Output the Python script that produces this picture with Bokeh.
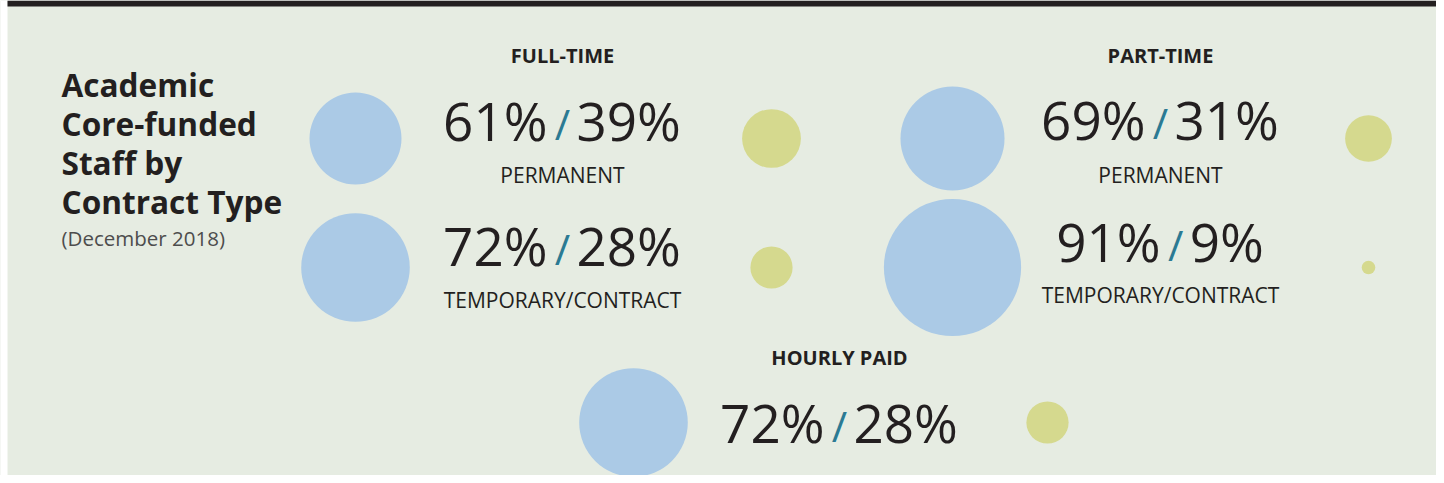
from bokeh.plotting import figure
from bokeh.models import Range1d
from bokeh.core.properties import value
from bokeh.embed import file_html
from bokeh.resources import INLINE

# ---------------- data ----------------
title_lines = ["Academic", "Core-funded", "Staff by", "Contract Type"]
subtitle = "(December 2018)"
group_names = ["FULL-TIME", "PART-TIME", "HOURLY PAID"]
row_group = [0, 0, 1, 1, 2]
row_labels = ["PERMANENT", "TEMPORARY/CONTRACT", "PERMANENT", "TEMPORARY/CONTRACT", ""]
share_main = [61, 72, 69, 91, 72]
share_other = [39, 28, 31, 9, 28]

# ---------------- layout / style ----------------
BG = "#e6ece2"
BLUE = "#abcae6"
GREEN = "#d5d98e"
TEAL = "#2b7a93"
DARK = "#231f20"
FONT = value("Open Sans")
BASE_SHIFT = 0.4   # em correction so that y is the visual baseline

col_center = [562, 1160, 839]       # text column centres per group
col_blue = [355, 952, 633]
col_green = [771, 1368, 1047]
head_y = [63, 63, 365]
row_y = [138, 267, 138, 267, 422]      # circle centres
num_base = [141, 266, 140, 262, 443]
lab_base = [183, 308, 183, 303, None]
R_PER_PCT = 0.754
NUM_SIZE = 53
TITLE_SIZE = 31.6
SUB_SIZE = 20.5
HEAD_SIZE = 20
LAB_SIZE = 21
SLASH_SIZE = 42


def by(vals, size):
    return [v - BASE_SHIFT * size for v in vals]


W, H = 1436, 475
p = figure(width=W, height=H, x_range=Range1d(0, W), y_range=Range1d(H, 0),
           output_backend="svg", toolbar_location=None, min_border=0,
           x_axis_location=None, y_axis_location=None,
           background_fill_color=BG, border_fill_color=BG, outline_line_color=None)
p.grid.visible = False

# white left strip and top dark bar
p.quad(left=0, right=7, top=0, bottom=H, fill_color="white", line_color=None)
p.quad(left=7, right=W, top=0, bottom=6, fill_color=DARK, line_color=None)

# title
p.text(x=[61] * len(title_lines), y=by([97, 136, 175, 214], TITLE_SIZE), text=title_lines,
       text_font=FONT, text_font_size=f"{TITLE_SIZE}px", text_font_style="bold",
       text_color=DARK, text_align="left", text_baseline="alphabetic")
p.text(x=[61], y=by([246], SUB_SIZE), text=[subtitle], text_font=FONT,
       text_font_size=f"{SUB_SIZE}px",
       text_color="#4d4d4d", text_align="left", text_baseline="alphabetic")

# group headings
p.text(x=col_center, y=by(head_y, HEAD_SIZE), text=group_names, text_font=FONT,
       text_font_size=f"{HEAD_SIZE}px",
       text_font_style="bold", text_color=DARK, text_align="center", text_baseline="alphabetic")

# circles
bx = [col_blue[g] for g in row_group]
gx = [col_green[g] for g in row_group]
p.circle(x=bx, y=row_y, radius=[v * R_PER_PCT for v in share_main],
         fill_color=BLUE, line_color=None)
p.circle(x=gx, y=row_y, radius=[v * R_PER_PCT for v in share_other],
         fill_color=GREEN, line_color=None)


def approx_width(s, size):
    w = 0.0
    for ch in s:
        w += 0.82 if ch == "%" else 0.572
    return w * size


left_txt = [f"{v}%" for v in share_main]
right_txt = [f"{v}%" for v in share_other]
slash_x, lx, rx = [], [], []
for i in range(len(share_main)):
    c = col_center[row_group[i]]
    s = c + (approx_width(left_txt[i], NUM_SIZE) - approx_width(right_txt[i], NUM_SIZE)) / 2
    slash_x.append(s)
    lx.append(s - 15)
    rx.append(s + 14)

p.text(x=lx, y=by(num_base, NUM_SIZE), text=left_txt, text_font=FONT,
       text_font_size=f"{NUM_SIZE}px",
       text_color=DARK, text_align="right", text_baseline="alphabetic")
p.text(x=rx, y=by(num_base, NUM_SIZE), text=right_txt, text_font=FONT,
       text_font_size=f"{NUM_SIZE}px",
       text_color=DARK, text_align="left", text_baseline="alphabetic")
p.text(x=slash_x, y=by([b - 1 for b in num_base], SLASH_SIZE), text=["/"] * len(num_base),
       text_font=FONT, text_font_size=f"{SLASH_SIZE}px",
       text_color=TEAL, text_align="center", text_baseline="alphabetic")

# row labels
li = [i for i in range(len(row_labels)) if row_labels[i]]
p.text(x=[col_center[row_group[i]] for i in li], y=by([lab_base[i] for i in li], LAB_SIZE),
       text=[row_labels[i] for i in li], text_font=FONT, text_font_size=f"{LAB_SIZE}px",
       text_color=DARK, text_align="center", text_baseline="alphabetic")

open("out.html", "w").write(file_html(p, INLINE))
